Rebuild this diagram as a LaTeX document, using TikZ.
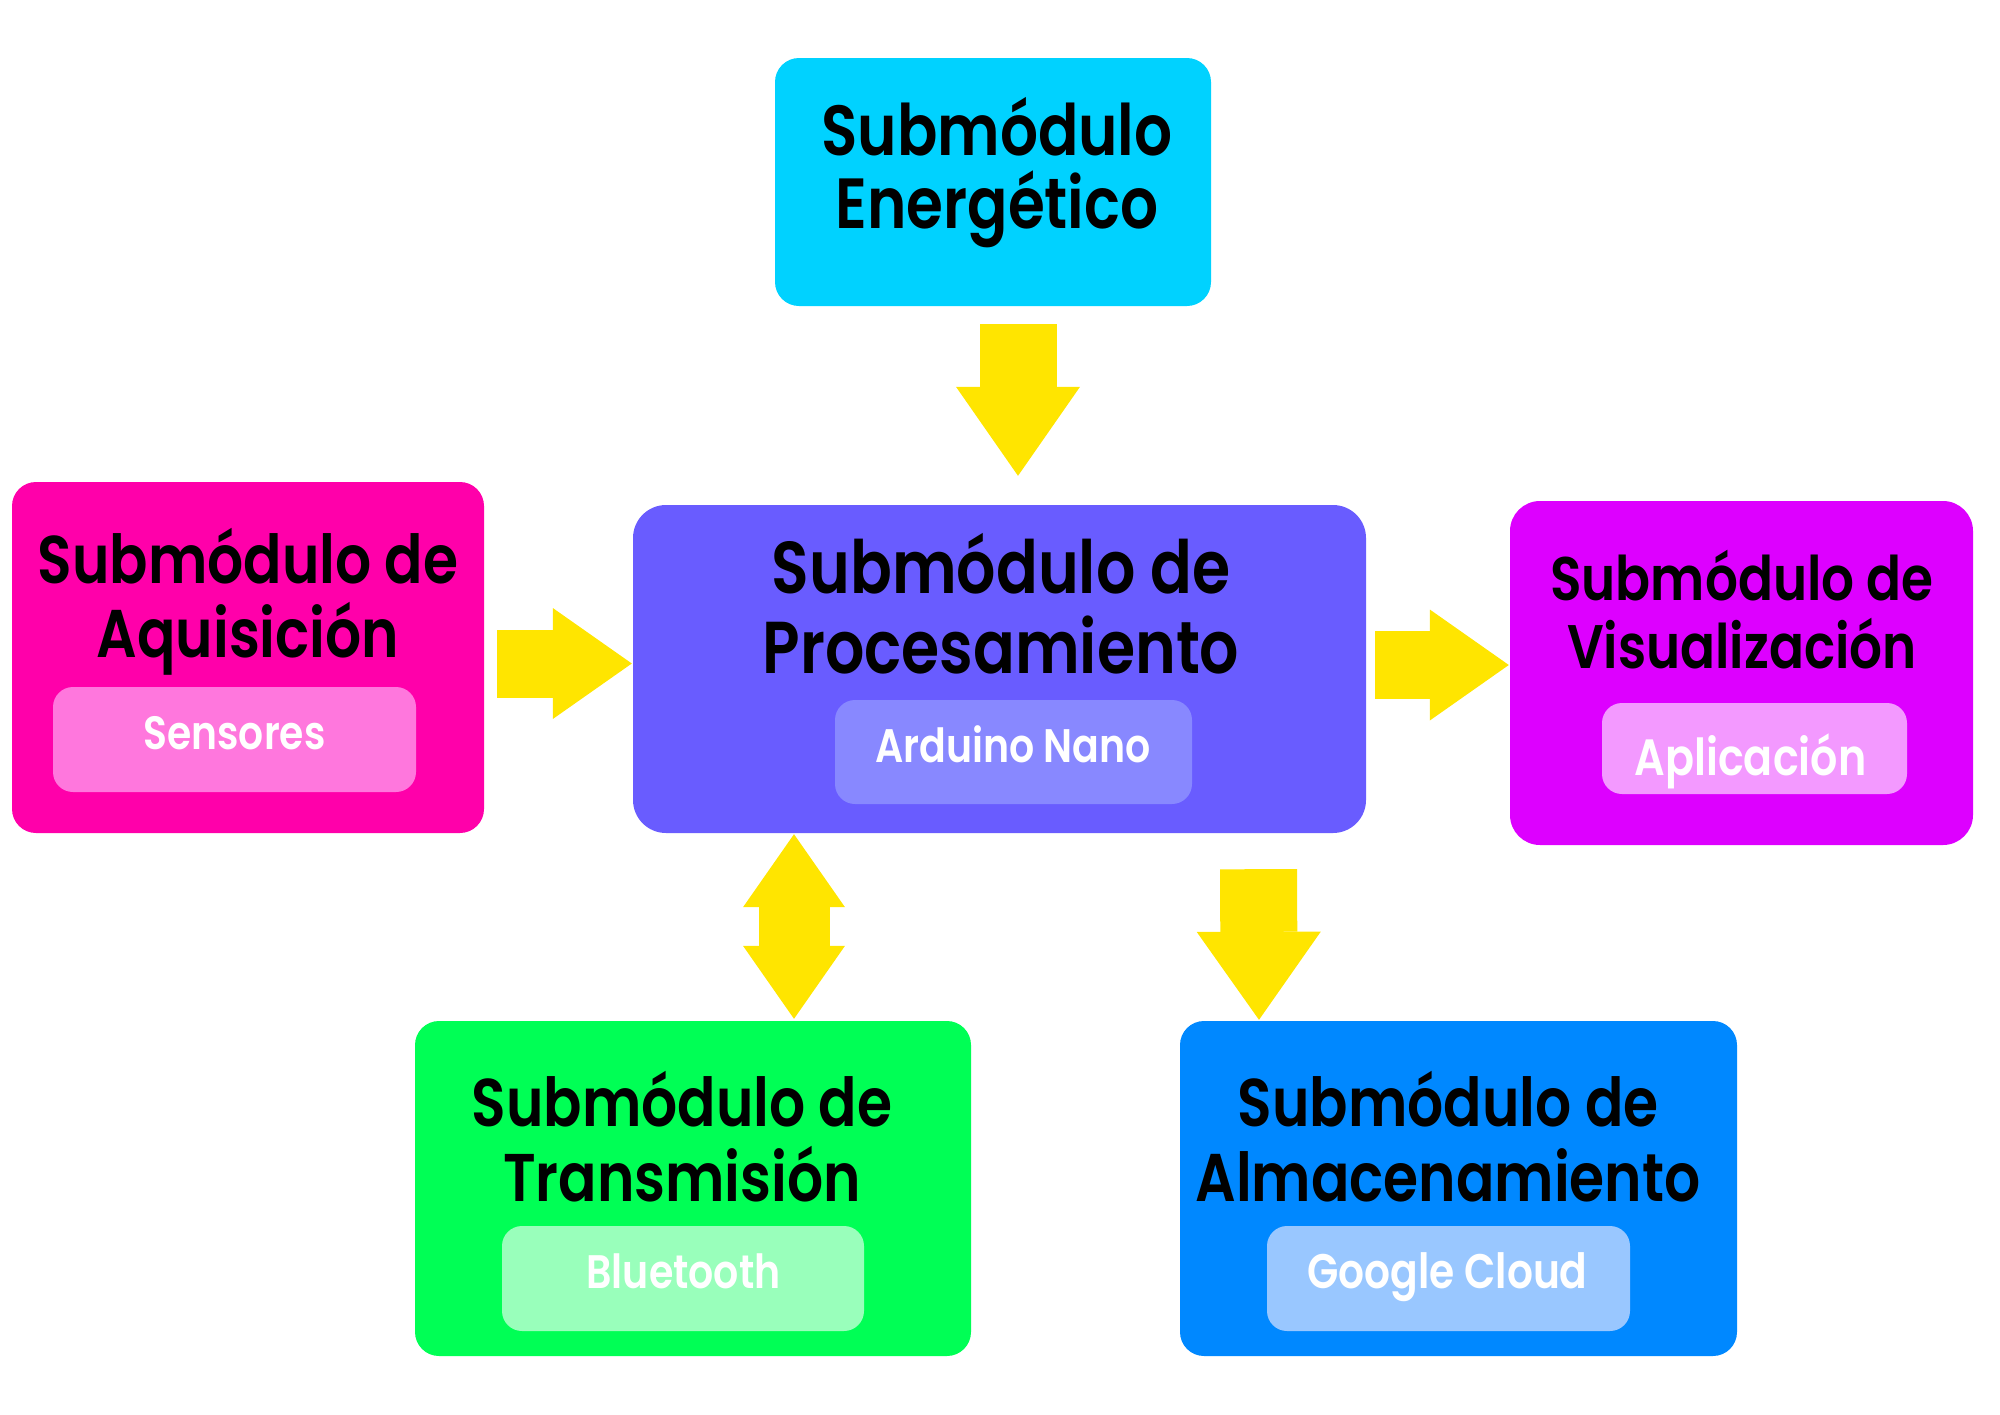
\documentclass[tikz,border=0pt]{standalone}
\usepackage{fontspec}
\setmainfont{Poppins}[FakeStretch=0.84, BoldFont={* SemiBold}]
\usetikzlibrary{arrows.meta}

\definecolor{cEner}{HTML}{00D2FF}
\definecolor{cProc}{HTML}{695CFF}
\definecolor{cAcq}{HTML}{FF00AA}
\definecolor{cVis}{HTML}{DD00FF}
\definecolor{cTrans}{HTML}{00FF55}
\definecolor{cAlm}{HTML}{0088FF}
\definecolor{cFlecha}{HTML}{FFE500}
\definecolor{iProc}{HTML}{8888FF}
\definecolor{iAcq}{HTML}{FF77DD}
\definecolor{iVis}{HTML}{F399FF}
\definecolor{iTrans}{HTML}{99FFBB}
\definecolor{iAlm}{HTML}{99C7FF}

\newcommand{\tam}[2]{\bfseries\fontsize{#1}{#2}\selectfont}

\tikzset{
  modulo/.style={rectangle, rounded corners=24pt, inner sep=0pt},
  interno/.style={rectangle, rounded corners=20pt, inner sep=0pt},
  titulo/.style={align=center, anchor=base, inner sep=0pt},
  etiqueta/.style={anchor=base, inner sep=0pt, text=white},
  flecha/.style args={#1/#2/#3}{draw=cFlecha, line width=#1,
    -{Triangle[length=#2, width=#3, line width=0pt]}},
  flechados/.style args={#1/#2/#3}{draw=cFlecha, line width=#1,
    {Triangle[length=#2, width=#3, line width=0pt]}-{Triangle[length=#2, width=#3, line width=0pt]}}
}

\begin{document}
\begin{tikzpicture}[x=1pt, y=-1pt]
    \useasboundingbox (0,0) rectangle (2000,1414);

    % submodulos
    \node[modulo, fill=cEner, minimum width=436pt, minimum height=248pt] (ener) at (993,182) {};
    \node[modulo, fill=cProc, minimum width=733pt, minimum height=328pt, rounded corners=33pt] (proc) at (999.5,669) {};
    \node[modulo, fill=cAcq, minimum width=472pt, minimum height=351pt] (acq) at (248,657.5) {};
    \node[modulo, fill=cVis, minimum width=463pt, minimum height=344pt, rounded corners=30pt] (vis) at (1741.5,673) {};
    \node[modulo, fill=cTrans, minimum width=556pt, minimum height=335pt] (trans) at (693,1188.5) {};
    \node[modulo, fill=cAlm, minimum width=557pt, minimum height=335pt] (alm) at (1458.5,1188.5) {};

    % cajas internas
    \node[interno, fill=iProc, minimum width=357pt, minimum height=104pt] (iproc) at (1013.5,752) {};
    \node[interno, fill=iAcq, minimum width=363pt, minimum height=105pt] (iacq) at (234.5,739.5) {};
    \node[interno, fill=iVis, minimum width=305pt, minimum height=91pt] (ivis) at (1754.5,748.5) {};
    \node[interno, fill=iTrans, minimum width=362pt, minimum height=105pt] (itrans) at (683,1278.5) {};
    \node[interno, fill=iAlm, minimum width=363pt, minimum height=105pt] (ialm) at (1448.5,1278.5) {};

    % titulos
    \node[titulo, font=\tam{71}{73}] (tener) at (997,228) {Submódulo\\Energético};
    \node[titulo, font=\tam{73.5}{80}] (tproc) at (1001,673) {Submódulo de\\Procesamiento};
    \node[titulo, font=\tam{67.5}{74}] (tacq) at (248,657) {Submódulo de\\Aquisición};
    \node[titulo, font=\tam{61.5}{68}] (tvis) at (1742,668) {Submódulo de\\Visualización};
    \node[titulo, font=\tam{67.5}{75}] (ttrans) at (682,1201) {Submódulo de\\Transmisión};
    \node[titulo, font=\tam{67.5}{75}] (talm) at (1448,1201) {Submódulo de\\Almacenamiento};

    % etiquetas
    \node[etiqueta, font=\tam{47}{50}] (lproc) at (1013,762) {Arduino Nano};
    \node[etiqueta, font=\tam{46.7}{50}] (lacq) at (234.5,749) {Sensores};
    \node[etiqueta, font=\tam{51}{54}] (lvis) at (1750.5,775) {Aplicación};
    \node[etiqueta, font=\tam{47}{50}] (ltrans) at (683.5,1288) {Bluetooth};
    \node[etiqueta, font=\tam{48.5}{52}] (lalm) at (1447.5,1288) {Google Cloud};

    % flechas
    \draw[flecha=77pt/89pt/124pt, shorten <=18pt, shorten >=29pt] ([xshift=25pt]ener.south) -- ([xshift=18.5pt]proc.north);
    \draw[flecha=68pt/79pt/111pt, shorten <=13pt, shorten >=1pt] ([yshift=-6pt]acq.east) -- ([yshift=5.5pt]proc.west);
    \draw[flecha=68pt/79pt/111pt, shorten <=9pt, shorten >=1pt] ([yshift=4pt]proc.east) -- ([yshift=8pt]vis.west);
    \draw[flecha=77pt/88pt/124pt, shorten <=36pt, shorten >=1pt] ([xshift=259pt]proc.south) -- ([xshift=-199.5pt]alm.north);
    \draw[flechados=71pt/73pt/102pt, shorten <=1pt, shorten >=2pt] ([xshift=-205.5pt]proc.south) -- ([xshift=101pt]trans.north);

\end{tikzpicture}
\end{document}
